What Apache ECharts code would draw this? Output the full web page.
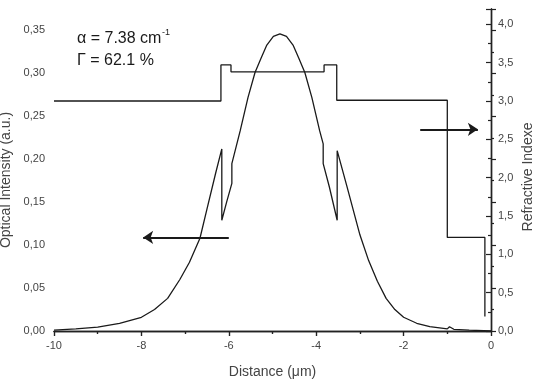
<!DOCTYPE html>
<html>
<head>
<meta charset="utf-8">
<title>Optical intensity and refractive index</title>
<script src="https://cdn.jsdelivr.net/npm/echarts@6/dist/echarts.min.js"></script>
<style>
  html, body { margin: 0; padding: 0; background: #fff; }
  #chart { width: 534px; height: 383px; }
</style>
</head>
<body>
<div id="chart"></div>
<script>
// optical intensity (left axis), distance in um
const intensityX = [-10, -9.5, -9, -8.5, -8, -7.7, -7.4, -7.12, -6.9, -6.66, -6.5, -6.3, -6.16, -6.16, -6.05, -5.93,
  -5.93, -5.74, -5.56, -5.4, -5.26, -5.13, -4.98, -4.83, -4.68, -4.53, -4.4, -4.26, -4.1, -3.92, -3.84,
  -3.84, -3.7, -3.52, -3.52, -3.3, -3.0, -2.8, -2.6, -2.4, -2.2, -2.0, -1.7, -1.4, -1.0, -0.95, -0.85, -0.5, 0];
const intensityY = [0.001, 0.0025, 0.0045, 0.009, 0.016, 0.025, 0.038, 0.06, 0.08, 0.108, 0.142, 0.184, 0.212, 0.129, 0.15, 0.172,
  0.195, 0.233, 0.272, 0.301, 0.318, 0.333, 0.343, 0.346, 0.343, 0.333, 0.318, 0.301, 0.272, 0.233, 0.218,
  0.195, 0.168, 0.129, 0.21, 0.169, 0.112, 0.082, 0.058, 0.038, 0.025, 0.016, 0.009, 0.005, 0.0025, 0.005, 0.002, 0.001, 0];

// refractive index profile (right axis)
const indexX = [-10, -6.18, -6.18, -5.95, -5.95, -3.82, -3.82, -3.53, -3.53, -1.0, -1.0, -0.14, -0.14];
const indexY = [3.0, 3.0, 3.47, 3.47, 3.38, 3.38, 3.47, 3.47, 3.01, 3.01, 1.22, 1.22, 0.19];

// arrows telling which curve belongs to which axis
const leftArrow = [[-6.0, 0.109], [-7.96, 0.109]];
const rightArrow = [[-1.62, 2.63], [-0.3, 2.63]];

const xMin = -10, xMax = 0, xStep = 2;
const leftMax = 0.375, leftStep = 0.05;
const rightMax = 4.2, rightStep = 0.5;

const ink = "#1a1a1a";
const labelColor = "#444";
const font = "Liberation Sans, Arial, sans-serif";

const zip = (xs, ys) => xs.map((x, i) => [x, ys[i]]);

const myChart = echarts.init(document.getElementById("chart"));

const axisLine = { show: true, lineStyle: { color: "#222", width: 1.4 } };
const tickStyle = { color: "#222", width: 1.2 };
const nameStyle = { fontSize: 14, color: labelColor, fontFamily: font };

const option = {
  animation: false,
  textStyle: { fontFamily: font },
  grid: { left: 54, right: 43, top: 9, bottom: 52, containLabel: false, outerBoundsMode: "none" },
  xAxis: [
    {
      type: "value",
      min: xMin,
      max: xMax,
      interval: xStep,
      name: "Distance (μm)",
      nameLocation: "middle",
      nameGap: 34,
      nameTextStyle: nameStyle,
      axisLine: axisLine,
      axisTick: { show: true, inside: false, length: 5, lineStyle: tickStyle },
      minorTick: { show: true, splitNumber: 2, length: 3, lineStyle: tickStyle },
      axisLabel: { fontSize: 11, color: labelColor, margin: 9, fontFamily: font },
      splitLine: { show: false },
    },
    {
      type: "value",
      position: "top",
      min: xMin,
      max: xMax,
      interval: xStep,
      axisLine: axisLine,
      axisTick: { show: true, inside: true, length: 5, lineStyle: tickStyle },
      minorTick: { show: true, splitNumber: 2, length: 3, lineStyle: tickStyle },
      axisLabel: { show: false },
      splitLine: { show: false },
    },
  ],
  yAxis: [
    {
      type: "value",
      position: "left",
      min: 0,
      max: leftMax,
      interval: leftStep,
      name: "Optical Intensity (a.u.)",
      nameLocation: "middle",
      nameRotate: 90,
      nameGap: 38,
      nameTextStyle: Object.assign({ padding: [0, 20, 0, 0] }, nameStyle),
      axisLine: axisLine,
      axisTick: { show: true, inside: true, length: 5, lineStyle: tickStyle },
      minorTick: { show: true, splitNumber: 2, length: 3, lineStyle: tickStyle },
      axisLabel: {
        fontSize: 11,
        color: labelColor,
        margin: 9,
        fontFamily: font,
        showMaxLabel: false,
        formatter: (v) => v.toFixed(2).replace(".", ","),
      },
      splitLine: { show: false },
    },
    {
      type: "value",
      position: "right",
      min: 0,
      max: rightMax,
      interval: rightStep,
      name: "Refractive Indexe",
      nameLocation: "middle",
      nameRotate: 90,
      nameGap: 30,
      nameMoveOverlap: false,
      nameTextStyle: Object.assign({ padding: [0, 14, 0, 0] }, nameStyle),
      axisLine: axisLine,
      axisTick: { show: true, inside: true, length: 5, lineStyle: tickStyle },
      minorTick: { show: true, splitNumber: 2, length: 3, lineStyle: tickStyle },
      axisLabel: {
        fontSize: 11,
        color: labelColor,
        margin: 7,
        fontFamily: font,
        showMaxLabel: false,
        formatter: (v) => v.toFixed(1).replace(".", ","),
      },
      splitLine: { show: false },
    },
  ],
  graphic: [
    { type: "text", left: 77, top: 31, style: { text: "α = 7.38 cm", font: "16px " + font, fill: ink } },
    { type: "text", left: 162, top: 28, style: { text: "-1", font: "9px " + font, fill: ink } },
    { type: "text", left: 77, top: 53, style: { text: "Γ = 62.1 %", font: "16px " + font, fill: ink } },
  ],
  series: [
    {
      name: "Optical Intensity",
      type: "line",
      xAxisIndex: 0,
      yAxisIndex: 0,
      data: zip(intensityX, intensityY),
      showSymbol: false,
      lineStyle: { color: ink, width: 1.3 },
      emphasis: { disabled: true },
      markLine: {
        silent: true,
        symbol: ["none", "arrow"],
        symbolSize: 10,
        label: { show: false },
        lineStyle: { color: ink, width: 2, type: "solid" },
        emphasis: { disabled: true },
        data: [[{ coord: leftArrow[0] }, { coord: leftArrow[1] }]],
      },
    },
    {
      name: "Refractive Index",
      type: "line",
      xAxisIndex: 0,
      yAxisIndex: 1,
      data: zip(indexX, indexY),
      showSymbol: false,
      lineStyle: { color: ink, width: 1.3 },
      emphasis: { disabled: true },
      markLine: {
        silent: true,
        symbol: ["none", "arrow"],
        symbolSize: 10,
        label: { show: false },
        lineStyle: { color: ink, width: 2, type: "solid" },
        emphasis: { disabled: true },
        data: [[{ coord: rightArrow[0] }, { coord: rightArrow[1] }]],
      },
    },
  ],
};

myChart.setOption(option, true);
</script>
</body>
</html>
